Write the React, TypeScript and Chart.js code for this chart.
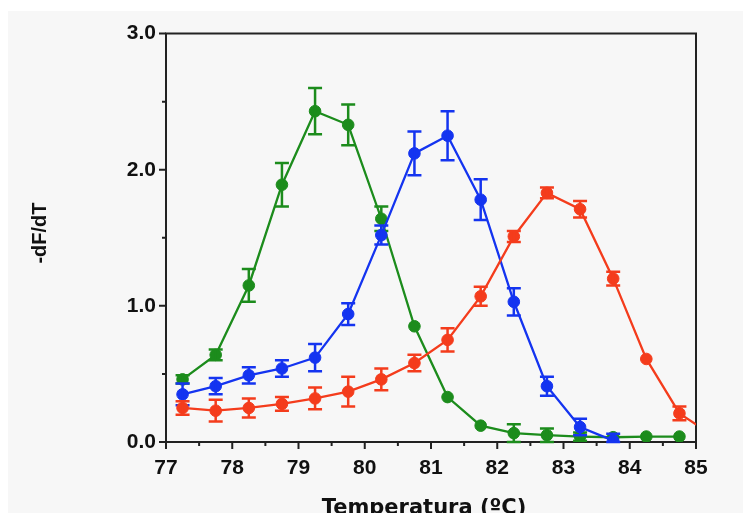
import { useEffect, useRef } from 'react';
import { Chart, registerables } from 'chart.js';

Chart.register(...registerables);

// Temperature (°C) of each measurement
const temperatures = [77.25, 77.75, 78.25, 78.75, 79.25, 79.75, 80.25, 80.75, 81.25, 81.75, 82.25, 82.75, 83.25, 83.75, 84.25, 84.75, 85.25];

const greenValues = [0.46, 0.64, 1.15, 1.89, 2.43, 2.33, 1.64, 0.85, 0.33, 0.12, 0.065, 0.05, 0.04, 0.035, 0.04, 0.04];
const greenErrors = [0.03, 0.04, 0.12, 0.16, 0.17, 0.15, 0.09, 0, 0, 0, 0.065, 0.05, 0.03, 0, 0, 0];

const blueValues = [0.35, 0.41, 0.49, 0.54, 0.62, 0.94, 1.52, 2.12, 2.25, 1.78, 1.03, 0.41, 0.11, 0.01];
const blueErrors = [0.08, 0.06, 0.06, 0.06, 0.1, 0.08, 0.07, 0.16, 0.18, 0.15, 0.1, 0.07, 0.06, 0.05];

const redValues = [0.25, 0.23, 0.25, 0.28, 0.32, 0.37, 0.46, 0.58, 0.75, 1.07, 1.51, 1.83, 1.71, 1.2, 0.61, 0.21, 0.05];
const redErrors = [0.05, 0.08, 0.07, 0.05, 0.08, 0.11, 0.08, 0.06, 0.085, 0.07, 0.04, 0.04, 0.06, 0.05, 0, 0.05, 0];

const xTickValues = [77, 78, 79, 80, 81, 82, 83, 84, 85];
const yTickLabels = ['0.0', '1.0', '2.0', '3.0'];

const xTitle = 'Temperatura (ºC)';
const yTitle = '-dF/dT';

const GREEN = '#1c8c1c';
const BLUE = '#1434f0';
const RED = '#f43c1c';

function toPoints(values: number[]) {
  return values.map((y, i) => ({ x: temperatures[i], y }));
}

const errorBarPlugin = {
  id: 'errorBars',
  afterDatasetDraw(chart: any, args: any) {
    const ds = chart.data.datasets[args.index] as any;
    const errs: number[] = ds.errors || [];
    const xs = chart.scales.x;
    const ys = chart.scales.y;
    const ctx = chart.ctx;
    ctx.save();
    ctx.strokeStyle = ds.borderColor;
    ctx.lineWidth = 2.5;
    ds.data.forEach((p: any, i: number) => {
      const e = errs[i];
      if (!e) return;
      const px = xs.getPixelForValue(p.x);
      const top = ys.getPixelForValue(p.y + e);
      const bot = ys.getPixelForValue(Math.max(0, p.y - e));
      ctx.beginPath();
      ctx.moveTo(px, top);
      ctx.lineTo(px, bot);
      ctx.moveTo(px - 7, top);
      ctx.lineTo(px + 7, top);
      ctx.moveTo(px - 7, bot);
      ctx.lineTo(px + 7, bot);
      ctx.stroke();
    });
    ctx.restore();
  },
};

const framePlugin = {
  id: 'frame',
  beforeDatasetsDraw(chart: any) {
    const { ctx, chartArea } = chart;
    const xs = chart.scales.x;
    const ys = chart.scales.y;
    const { left, right, top, bottom } = chartArea;
    ctx.save();
    ctx.strokeStyle = '#222';
    ctx.lineWidth = 2;
    ctx.beginPath();
    ctx.moveTo(left, top);
    ctx.lineTo(right, top);
    ctx.lineTo(right, bottom);
    ctx.lineTo(left, bottom);
    ctx.closePath();
    ctx.stroke();
    ctx.beginPath();
    for (let v = xs.min; v <= xs.max + 1e-6; v += 0.5) {
      const px = xs.getPixelForValue(v);
      const len = Math.abs(v - Math.round(v)) < 1e-6 ? 7 : 4;
      ctx.moveTo(px, bottom);
      ctx.lineTo(px, bottom + len);
    }
    for (let v = ys.min; v <= ys.max + 1e-6; v += 0.5) {
      const py = ys.getPixelForValue(v);
      const len = Math.abs(v - Math.round(v)) < 1e-6 ? 7 : 4;
      ctx.moveTo(left, py);
      ctx.lineTo(left - len, py);
    }
    ctx.stroke();
    ctx.restore();
  },
  afterDraw(chart: any) {
    const { ctx, chartArea } = chart;
    ctx.save();
    ctx.fillStyle = '#111';
    ctx.font = 'bold 21px "DejaVu Sans", sans-serif';
    ctx.textAlign = 'center';
    ctx.textBaseline = 'alphabetic';
    ctx.fillText(xTitle, (chartArea.left + chartArea.right) / 2 - 7, 503);
    ctx.translate(32, 222);
    ctx.rotate(-Math.PI / 2);
    ctx.font = 'bold 20px "Liberation Sans", Arial, sans-serif';
    ctx.textBaseline = 'middle';
    ctx.fillText(yTitle, 0, 0);
    ctx.restore();
  },
};

function makeDataset(label: string, values: number[], errors: number[], color: string, hideLast: boolean) {
  return {
    label,
    data: toPoints(values),
    errors,
    borderColor: color,
    backgroundColor: color,
    borderWidth: 2.3,
    pointRadius: values.map((_, i) => (hideLast && i === values.length - 1 ? 0 : 5.8)),
    pointBorderWidth: 1,
    pointBorderColor: color,
    pointBackgroundColor: color,
    showLine: true,
    tension: 0,
  };
}

export default function App() {
  const ref = useRef<HTMLCanvasElement>(null);
  useEffect(() => {
    if (!ref.current) return;
    const chart = new Chart(ref.current, {
      type: 'scatter',
      data: {
        datasets: [
          makeDataset('Red', redValues, redErrors, RED, true),
          makeDataset('Blue', blueValues, blueErrors, BLUE, false),
          makeDataset('Green', greenValues, greenErrors, GREEN, false),
        ] as any,
      },
      options: {
        responsive: false,
        animation: false,
        layout: { padding: { top: 17, right: 47, left: 0, bottom: 0 } },
        plugins: { legend: { display: false }, tooltip: { enabled: false } },
        scales: {
          x: {
            type: 'linear',
            min: 77,
            max: 85,
            afterFit: (s: any) => {
              s.height = 71;
            },
            afterBuildTicks: (s: any) => {
              s.ticks = xTickValues.map((v) => ({ value: v }));
            },
            grid: { display: false, drawTicks: false },
            border: { display: false },
            ticks: {
              padding: 14,
              color: '#111',
              font: { family: '"Liberation Sans", Arial, sans-serif', size: 21, weight: 'bold' },
              callback: (v: any) => String(v),
            },
          },
          y: {
            type: 'linear',
            min: 0,
            max: 3,
            afterFit: (s: any) => {
              s.width = 158;
            },
            afterBuildTicks: (s: any) => {
              s.ticks = yTickLabels.map((_, i) => ({ value: i }));
            },
            grid: { display: false, drawTicks: false },
            border: { display: false },
            ticks: {
              padding: 10,
              color: '#111',
              font: { family: '"Liberation Sans", Arial, sans-serif', size: 21, weight: 'bold' },
              callback: (v: any) => yTickLabels[Math.round(Number(v))] ?? '',
            },
          },
        },
      } as any,
      plugins: [framePlugin, errorBarPlugin],
    });
    return () => chart.destroy();
  }, []);
  return (
    <canvas
      ref={ref}
      width={735}
      height={502}
      style={{ position: 'fixed', left: 8, top: 11, width: 735, height: 502, background: '#f7f7f7', display: 'block' }}
    />
  );
}
